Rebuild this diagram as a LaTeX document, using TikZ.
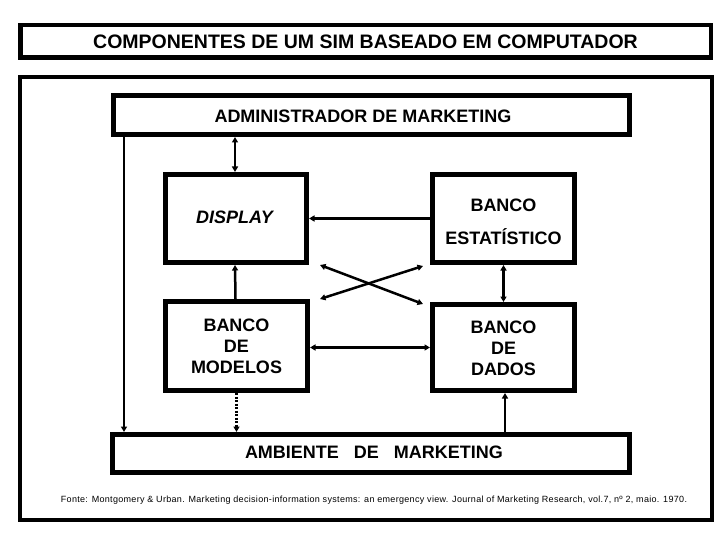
\documentclass[tikz,border=0pt]{standalone}
\usepackage{fontspec}
\setmainfont{Liberation Sans}
\usetikzlibrary{arrows.meta,calc}
\begin{document}
\begin{tikzpicture}[x=1pt,y=-1pt,
  box/.style={draw=black,line width=5pt,fill=white,inner sep=0pt,minimum width=#1},
  lbl/.style={font=\fontsize{18}{21}\selectfont\bfseries,align=center,inner sep=0pt},
  conn/.style={line width=2.5pt},
  tip/.style={-{Triangle[length=5.5pt,width=6pt]}},
  tips/.style={{Triangle[length=5.5pt,width=6pt]}-{Triangle[length=5.5pt,width=6pt]}}]
\useasboundingbox (0,0) rectangle (720,540);
\fill[white] (0,0) rectangle (720,540);
% title
\node[draw=black,line width=4.5pt,inner sep=0pt,minimum width=690.5pt,minimum height=32.5pt,
  font=\fontsize{19.5}{22}\selectfont\bfseries] (title) at (365.5,41.5) {COMPONENTES DE UM SIM BASEADO EM COMPUTADOR};
% outer frame
\node[draw=black,line width=4pt,inner sep=0pt,minimum width=692pt,minimum height=443pt] (frame) at (366,298.5) {};
% boxes
\node[box=516pt,minimum height=39pt] (admin) at (371.5,115) {};
\node[lbl] (adminl) at (363,116) {ADMINISTRADOR DE MARKETING};
\node[box=141pt,minimum height=88pt] (disp) at (236,218.5) {};
\node[lbl,font=\fontsize{18}{21}\selectfont\bfseries\itshape] (displ) at (234.5,217) {DISPLAY};
\node[box=142pt,minimum height=88pt] (estat) at (503.5,218.5) {};
\node[lbl] (estatl) at (503.5,221.5) {BANCO\\[12pt]ESTATÍSTICO};
\node[box=142pt,minimum height=89pt] (mod) at (236.5,346) {};
\node[lbl] (modl) at (236.5,346.5) {BANCO\\DE\\MODELOS};
\node[box=142pt,minimum height=86pt] (dados) at (503.5,347.5) {};
\node[lbl] (dadosl) at (503.5,348) {BANCO\\DE\\DADOS};
\node[box=517pt,minimum height=38pt] (amb) at (371,453.5) {};
\node[lbl] (ambl) at (374,452) {AMBIENTE\ \ \ DE\ \ \ MARKETING};
% source
\node[inner sep=0pt,font=\fontsize{9}{10}\selectfont\addfontfeatures{LetterSpace=3.5}] (fonte) at (374,500)
  {Fonte: Montgomery \& Urban. Marketing decision-information systems: an emergency view. Journal of Marketing Research, vol.7, nº 2, maio. 1970.};
% connectors
\draw[conn,tips] ([xshift=-1pt]admin.south -| disp.north) -- ([xshift=-1pt]disp.north);
\draw[conn,tip] ([xshift=13pt]admin.south west) -- ([xshift=13pt]admin.south west |- amb.north);
\draw[conn,tip] (estat.west) -- (disp.east);
\draw[conn,tip] ([xshift=-1pt]mod.north) -- ([xshift=-1pt]disp.south);
\draw[conn,tips] ([xshift=11pt]disp.south east) -- ([shift={(-7pt,-2pt)}]dados.north west);
\draw[conn,tips] ([xshift=10pt]mod.north east) -- ([shift={(-7pt,-1pt)}]estat.south west);
\draw[conn,tips] (estat.south) -- (dados.north);
\draw[conn,tips] (mod.east |- dados.west) -- (dados.west);
\draw[conn,line width=3pt,dash pattern=on 2pt off 1.5pt,tip] (mod.south) -- (mod.south |- amb.north);
\draw[conn,tip] ([xshift=1.5pt]dados.south |- amb.north) -- ([xshift=1.5pt]dados.south);
\end{tikzpicture}
\end{document}
